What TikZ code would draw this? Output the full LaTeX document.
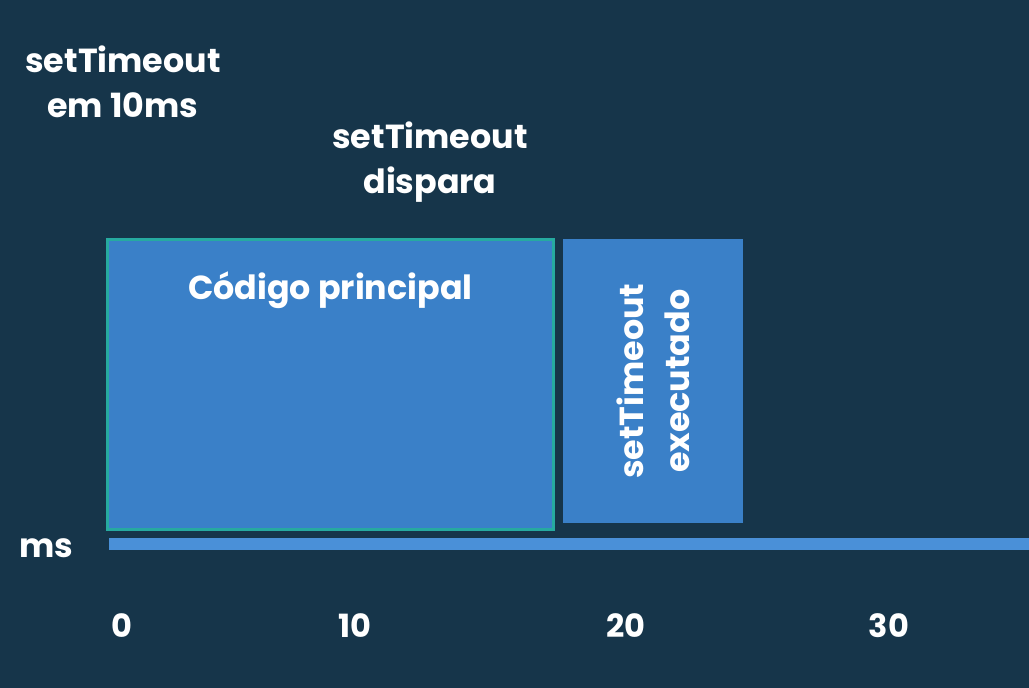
\documentclass[tikz,border=0pt]{standalone}
\usepackage{fontspec}
\setmainfont{Poppins}
\definecolor{tlbg}{RGB}{22,53,74}
\definecolor{tlblue}{RGB}{58,128,200}
\definecolor{tlaxis}{RGB}{74,144,216}
\definecolor{tlteal}{RGB}{38,170,160}
\usetikzlibrary{positioning}

\begin{document}
\begin{tikzpicture}[
  x=0.75pt,y=-0.75pt,
  every node/.style={font=\bfseries\fontsize{25}{34}\selectfont,text=white,align=center},
  task/.style={fill=tlblue,inner sep=0pt,anchor=north west},
  tick/.style={font=\bfseries\fontsize{24}{28}\selectfont},
]
  % background
  \fill[tlbg] (0,0) rectangle (1029,688);
  \useasboundingbox (0,0) rectangle (1029,688);

  % event labels
  \node (evset)  at (123, 82)  {setTimeout\\em 10ms};
  \node (evfire) at (430, 162) {setTimeout\\dispara};

  % tasks
  \node[task,draw=tlteal,line width=2pt,minimum width=334.5pt,minimum height=217.5pt] (mainjob) at (106, 238) {};
  \node[below=22pt of mainjob.north] (mainlbl) {Código principal};
  \node[task,minimum width=135pt,minimum height=213pt] (cbjob) at (563, 239) {};
  \node[rotate=90] (cblbl) at (cbjob.center) {setTimeout\\executado};

  % time axis
  \fill[tlaxis] (109, 538) rectangle (1029, 550);
  \node (unit) at (46, 548) {ms};
  \node[tick] (t0)  at (122, 626) {0};
  \node[tick] (t10) at (355, 626) {10};
  \node[tick] (t20) at (626, 626) {20};
  \node[tick] (t30) at (889, 626) {30};
\end{tikzpicture}
\end{document}
